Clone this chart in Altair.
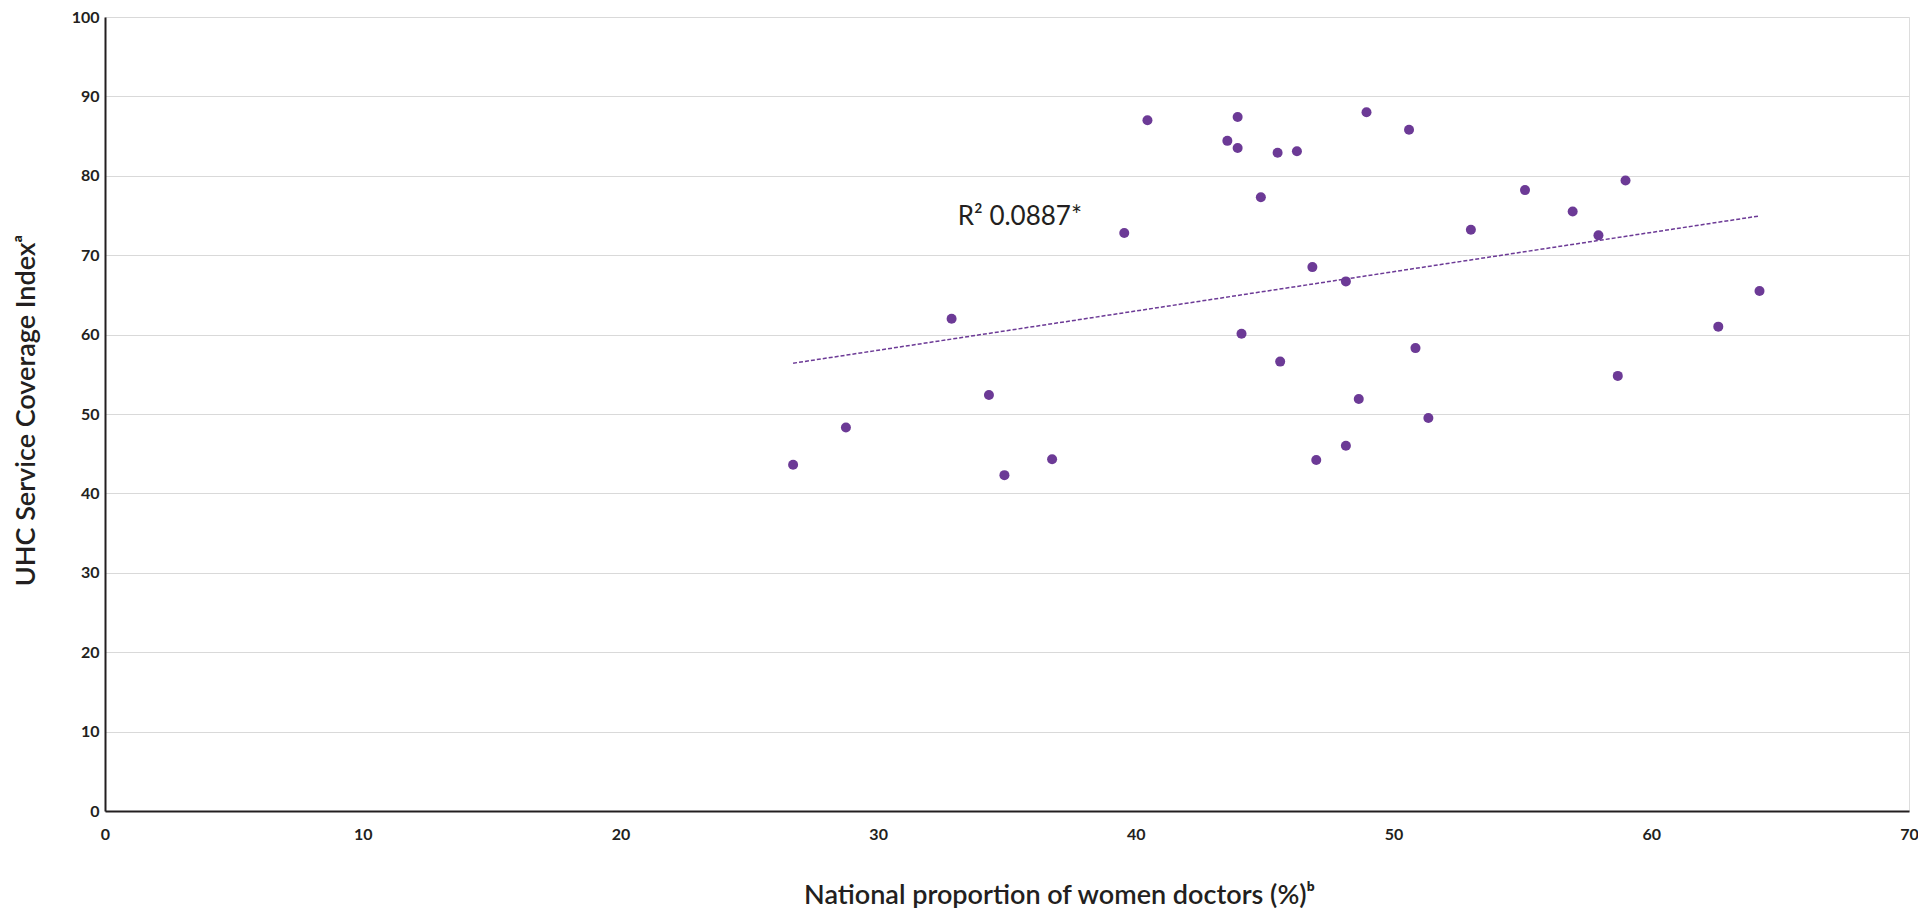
import altair as alt
import pandas as pd

# National proportion of women doctors (%)
women_pct = [26.7, 28.75, 32.85, 34.3, 34.9, 36.75, 39.55, 40.45, 43.55, 43.95,
             43.95, 44.1, 44.85, 45.5, 45.6, 46.25, 46.85, 47.0, 48.15, 48.15,
             48.65, 48.95, 50.6, 50.85, 51.35, 53.0, 55.1, 56.95, 57.95, 58.7,
             59.0, 62.6, 64.2]
# UHC Service Coverage Index
uhc_index = [43.6, 48.3, 62.0, 52.4, 42.3, 44.3, 72.8, 87.0, 84.4, 87.4,
             83.5, 60.1, 77.3, 82.9, 56.6, 83.1, 68.5, 44.2, 66.7, 46.0,
             51.9, 88.0, 85.8, 58.3, 49.5, 73.2, 78.2, 75.5, 72.5, 54.8,
             79.4, 61.0, 65.5]

x_ticks = [0, 10, 20, 30, 40, 50, 60, 70]
y_ticks = [0, 10, 20, 30, 40, 50, 60, 70, 80, 90, 100]

r2_label = ["R²  0.0887*"]
r2_x = [35.5]
r2_y = [73.8]

PURPLE = "#6c3a96"
DARK = "#231f20"
FONT = "Lato"

W, H = 1804, 794

df = pd.DataFrame({"x": women_pct, "y": uhc_index})
lab = pd.DataFrame({"x": r2_x, "y": r2_y, "t": r2_label})

xs = alt.Scale(domain=[0, 70], nice=False, zero=False)
ys = alt.Scale(domain=[0, 100], nice=False, zero=False)

base = alt.Chart(df)

points = base.mark_circle(size=100, color=PURPLE, opacity=1).encode(
    x=alt.X("x:Q", scale=xs,
            axis=alt.Axis(values=x_ticks, title="National proportion of women doctors (%)ᵇ",
                          grid=False, ticks=False, domain=True, domainColor=DARK, domainWidth=2,
                          labelFont=FONT, labelFontSize=16, labelFontWeight="bold", labelColor=DARK,
                          labelPadding=15, titleFont=FONT, titleFontSize=27, titleFontWeight=600,
                          titleColor=DARK, titleBaseline="alphabetic", titleAlign="center",
                          titleX=954, titleY=92, labelFlush=False)),
    y=alt.Y("y:Q", scale=ys,
            axis=alt.Axis(values=y_ticks, title="UHC Service Coverage Indexᵃ",
                          grid=True, gridColor="#d9d9d9", gridWidth=1,
                          ticks=False, domain=True, domainColor=DARK, domainWidth=2,
                          labelFont=FONT, labelFontSize=16, labelFontWeight="bold", labelColor=DARK,
                          labelPadding=6, titleFont=FONT, titleFontSize=27, titleFontWeight=600,
                          titleColor=DARK, titleAngle=270, titleAlign="center",
                          titleBaseline="middle", titleX=-79, titleY=H / 2 - 4, labelFlush=False)),
)

trend = base.transform_regression("x", "y").mark_line(
    color=PURPLE, strokeDash=[4, 2], strokeWidth=1.5
).encode(x=alt.X("x:Q", scale=xs), y=alt.Y("y:Q", scale=ys))

text = alt.Chart(lab).mark_text(
    font=FONT, fontSize=26, color=DARK, align="center", baseline="alphabetic"
).encode(x=alt.X("x:Q", scale=xs), y=alt.Y("y:Q", scale=ys), text="t:N")

chart = alt.layer(trend, points, text).properties(
    width=W, height=H,
    autosize=alt.AutoSizeParams(type="none"),
    padding={"left": 97, "top": 9, "right": 9, "bottom": 97},
).configure_view(stroke=None).configure(background="white")

chart.save("out.html", embed_options={"renderer": "svg", "actions": False})
